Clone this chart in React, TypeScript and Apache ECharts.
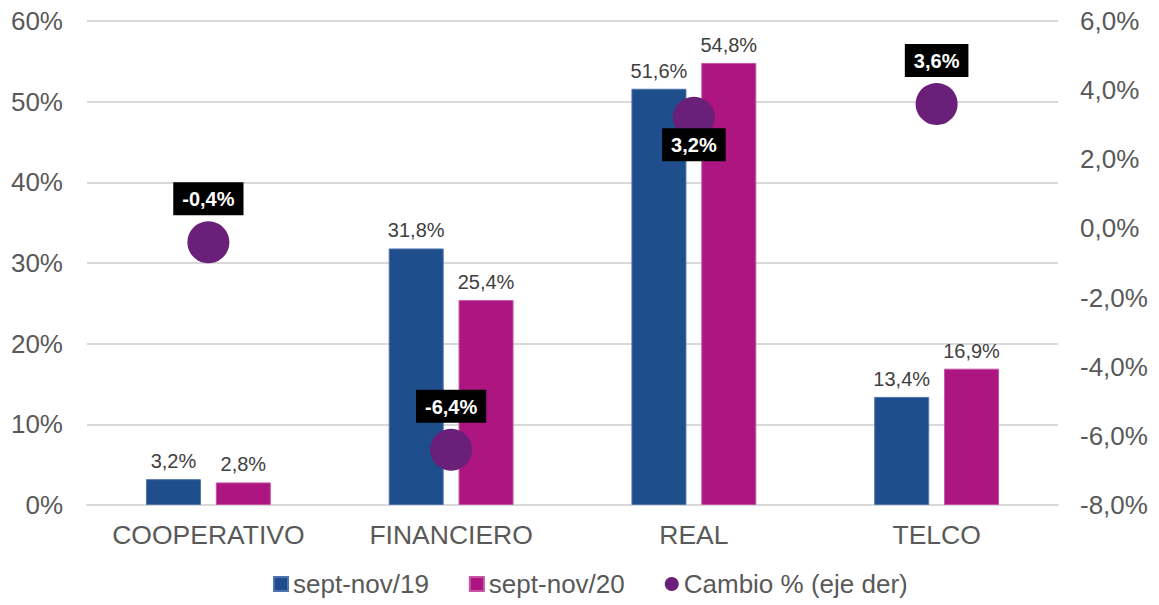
import React, { useEffect, useRef } from "react";
import * as echarts from "echarts";

const categories = ["COOPERATIVO", "FINANCIERO", "REAL", "TELCO"];
const sept19 = [3.2, 31.8, 51.6, 13.4];
const sept20 = [2.8, 25.4, 54.8, 16.9];
const cambio = [-0.4, -6.4, 3.2, 3.6];
const seriesNames = ["sept-nov/19", "sept-nov/20", "Cambio % (eje der)"];

const FONT = "'Liberation Sans', Arial, sans-serif";
const fmt1 = (v: number) => v.toFixed(1).replace(".", ",") + "%";

export default function App() {
  const ref = useRef<HTMLDivElement>(null);
  useEffect(() => {
    if (!ref.current) return;
    const chart = echarts.init(ref.current, undefined, { renderer: "svg" });
    chart.setOption({
      animation: false,
      backgroundColor: "#ffffff",
      textStyle: { fontFamily: FONT },
      grid: { left: 87, right: 101, top: 21, bottom: 100, containLabel: false },
      legend: {
        bottom: 3,
        left: 268,
        itemGap: 40,
        itemWidth: 14,
        itemHeight: 14,
        textStyle: { fontSize: 26, color: "#595959", fontFamily: FONT, padding: [0, 0, 0, 0] },
        data: [
          { name: seriesNames[0], icon: "rect" },
          { name: seriesNames[1], icon: "rect" },
          { name: seriesNames[2], icon: "circle" },
        ],
      },
      xAxis: {
        type: "category",
        data: categories,
        axisLine: { show: true, lineStyle: { color: "#d9d9d9", width: 2 } },
        axisTick: { show: false },
        axisLabel: { color: "#595959", fontSize: 26.5, margin: 16, fontFamily: FONT, interval: 0 },
      },
      yAxis: [
        {
          type: "value",
          min: 0,
          max: 60,
          interval: 10,
          axisLine: { show: false },
          axisTick: { show: false },
          splitLine: { show: true, lineStyle: { color: "#d9d9d9", width: 2 } },
          axisLabel: {
            color: "#595959",
            fontSize: 26,
            margin: 24,
            fontFamily: FONT,
            formatter: (v: number) => v + "%",
          },
        },
        {
          type: "value",
          min: -8,
          max: 6,
          interval: 2,
          axisLine: { show: false },
          axisTick: { show: false },
          splitLine: { show: false },
          axisLabel: {
            color: "#595959",
            fontSize: 26,
            margin: 22,
            fontFamily: FONT,
            formatter: (v: number) => fmt1(v),
          },
        },
      ],
      series: [
        {
          name: seriesNames[0],
          type: "bar",
          data: sept19,
          barWidth: 55,
          barGap: "27%",
          itemStyle: { color: "#1F4E8D", borderColor: "#4F74AE", borderWidth: 1 },
          label: {
            show: true,
            position: "top",
            distance: 8,
            color: "#404040",
            fontSize: 20,
            fontFamily: FONT,
            formatter: (p: any) => fmt1(p.value),
          },
        },
        {
          name: seriesNames[1],
          type: "bar",
          data: sept20,
          barWidth: 55,
          itemStyle: { color: "#AD1680", borderColor: "#C554A3", borderWidth: 1 },
          label: {
            show: true,
            position: "top",
            distance: 8,
            color: "#404040",
            fontSize: 20,
            fontFamily: FONT,
            formatter: (p: any) => fmt1(p.value),
          },
        },
        {
          name: seriesNames[2],
          type: "scatter",
          yAxisIndex: 1,
          symbol: "circle",
          symbolSize: 42,
          z: 5,
          itemStyle: { color: "#6A1F78", opacity: 1 },
          label: {
            show: true,
            position: "top",
            distance: 6,
            color: "#ffffff",
            fontWeight: "bold",
            fontSize: 20,
            fontFamily: FONT,
            backgroundColor: "#000000",
            opacity: 1,
            padding: [7, 9, 6, 9],
            formatter: (p: any) => fmt1(p.value),
          },
          data: cambio.map((v, i) =>
            categories[i] === "REAL"
              ? { value: v, label: { position: "inside", offset: [0, 27] } }
              : { value: v }
          ),
        },
      ],
    });
    return () => chart.dispose();
  }, []);
  return (
    <div
      ref={ref}
      style={{ position: "fixed", left: 0, top: 0, width: 1159, height: 605 }}
    />
  );
}
